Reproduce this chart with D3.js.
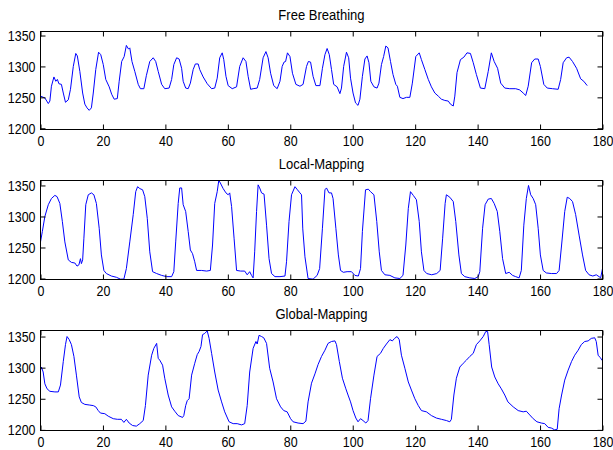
<!DOCTYPE html>
<html>
<head>
<meta charset="utf-8">
<script src="https://cdn.jsdelivr.net/npm/d3@7/dist/d3.min.js"></script>
<style>
  html, body { margin: 0; padding: 0; background: #fff; }
  svg { display: block; }
  text { font-family: "Liberation Sans", Arial, sans-serif; font-size: 15px; fill: #000; }
</style>
</head>
<body>
<svg id="chart" width="613" height="450"></svg>
<script>
// Time (x) and signal (y) samples for each acquisition mode
const freeX = [0,1.4,2.5,3.0,3.5,4.3,4.9,5.4,5.9,6.7,7.3,8.0,8.9,9.6,10.5,11.3,11.8,12.6,13.5,14.2,14.9,15.6,16.3,16.9,17.7,18.6,19.3,20.1,20.9,22.0,22.8,23.6,24.6,25.2,26.0,26.8,27.5,28.2,28.6,29.3,30.2,31.3,32.0,33.1,33.9,35.0,36.1,36.9,37.7,38.8,39.8,41.2,42.0,42.7,43.6,44.4,45.2,45.7,46.5,47.3,48.0,48.9,49.6,50.5,51.0,52.1,53.4,54.8,55.8,56.6,57.4,58.2,58.7,59.4,60.1,61.4,62.8,63.8,64.9,65.8,66.5,67.3,68.1,69.4,70.2,71.3,72.2,72.9,73.7,74.7,75.8,76.7,77.4,78.0,78.5,79.1,79.9,80.7,81.8,83.1,84.1,85.2,85.8,86.5,87.3,88.2,89.5,90.3,91.1,91.8,92.5,93.2,93.9,95.0,95.9,96.4,97.1,98.0,98.7,99.3,100.1,100.9,101.7,102.3,103.1,103.9,104.6,105.2,105.8,106.8,107.8,108.4,109.2,109.9,110.6,111.3,112.1,112.9,113.8,114.3,115.1,116.1,117.2,118.3,119.1,120.2,121.3,122.0,123.1,124.2,125.2,126.3,127.4,128.4,129.5,130.6,131.3,132.2,132.7,133.4,134.5,135.6,136.6,137.7,138.6,139.6,140.9,142.3,143.4,144.4,145.3,146.4,147.4,148.7,150.3,152.2,153.5,154.6,155.4,156.2,157.3,158.3,159.4,160.1,161.2,162.3,164.0,165.8,166.6,167.4,168.5,169.3,170.4,171.7,173.0,174.0,175.1];
const freeY = [1252,1249,1240,1244,1268,1283,1276,1279,1272,1271,1257,1242,1246,1263,1300,1321,1317,1292,1257,1239,1233,1229,1233,1257,1295,1323,1319,1303,1279,1267,1255,1247,1248,1276,1308,1316,1334,1328,1330,1308,1292,1271,1264,1264,1285,1308,1314,1308,1292,1271,1264,1265,1279,1303,1314,1312,1297,1276,1265,1264,1273,1295,1304,1304,1295,1283,1272,1264,1265,1281,1314,1322,1311,1284,1269,1264,1267,1300,1314,1308,1284,1263,1264,1265,1279,1314,1324,1314,1289,1269,1264,1276,1300,1307,1308,1322,1316,1289,1271,1268,1271,1300,1308,1307,1284,1269,1269,1297,1319,1329,1319,1295,1271,1267,1256,1265,1300,1323,1314,1281,1257,1241,1237,1247,1284,1312,1317,1306,1276,1267,1265,1273,1303,1316,1333,1330,1308,1287,1271,1268,1250,1248,1250,1250,1273,1316,1322,1311,1295,1279,1267,1257,1252,1247,1245,1244,1239,1236,1252,1290,1311,1315,1322,1321,1306,1287,1265,1264,1292,1322,1308,1297,1273,1265,1264,1264,1262,1257,1253,1268,1306,1312,1312,1300,1271,1265,1264,1263,1279,1306,1314,1315,1308,1297,1280,1276,1269];

const localX = [0,0.6,1.4,2.5,3.5,4.6,5.3,6.2,7.0,7.8,8.9,9.9,11.0,11.7,12.3,12.8,13.1,13.5,13.9,14.5,15.3,16.3,17.1,17.9,18.8,19.5,20.3,21.1,22.7,24.3,25.6,26.7,27.5,28.6,29.7,30.5,31.1,31.8,32.7,33.4,34.2,35.0,35.9,37.2,38.8,40.4,42.0,42.7,43.3,44.1,44.6,45.2,45.7,46.5,47.3,48.0,48.7,49.4,50.0,51.6,53.2,54.4,55.1,55.8,56.6,57.1,57.6,58.5,59.4,60.1,60.6,61.2,62.0,62.8,64.1,65.4,66.2,67.0,67.6,68.1,68.6,69.2,69.7,70.2,70.8,71.6,72.4,73.2,74.0,75.1,76.7,78.3,78.8,79.6,80.4,81.5,82.3,83.1,83.6,84.0,84.7,85.7,87.3,88.6,89.4,90.3,91.1,91.6,92.4,93.2,93.7,94.6,95.4,96.1,97.0,98.2,99.6,100.7,101.8,102.5,103.1,104.1,105.0,105.7,106.8,107.7,108.5,109.2,110.3,111.9,113.5,115.1,116.1,117.0,117.8,118.5,119.4,120.4,121.3,122.0,122.8,123.7,125.3,126.9,128.0,128.8,129.6,130.0,131.1,132.2,133.0,134.0,134.8,135.9,137.5,139.1,140.2,140.7,141.6,142.4,143.4,144.4,145.3,146.3,147.1,148.0,149.0,150.1,151.2,152.2,153.3,154.0,154.8,155.6,156.3,157.0,157.8,158.6,159.4,160.1,161.0,162.0,163.6,165.3,166.1,166.9,167.9,168.7,169.5,170.4,171.4,172.5,173.6,174.6,175.7,176.9,178.0,178.9,179.4,180.0];
const localY = [1259,1276,1300,1319,1329,1334,1332,1321,1292,1259,1230,1226,1225,1220,1222,1232,1224,1230,1265,1319,1335,1338,1335,1321,1281,1238,1213,1208,1204,1202,1199,1199,1216,1259,1303,1340,1348,1345,1343,1332,1297,1243,1211,1208,1205,1203,1203,1211,1259,1321,1346,1346,1319,1308,1276,1246,1240,1227,1213,1213,1212,1213,1254,1321,1340,1358,1354,1345,1338,1335,1338,1316,1265,1213,1212,1212,1206,1211,1205,1201,1243,1308,1351,1346,1338,1336,1286,1232,1208,1203,1203,1204,1227,1292,1335,1348,1343,1338,1335,1280,1235,1200,1199,1205,1216,1281,1343,1346,1338,1338,1329,1281,1238,1213,1210,1211,1211,1205,1204,1216,1276,1343,1344,1340,1335,1292,1243,1213,1206,1205,1201,1200,1205,1254,1313,1340,1334,1327,1292,1243,1213,1208,1206,1208,1213,1265,1321,1335,1331,1324,1292,1238,1208,1203,1201,1200,1203,1211,1281,1319,1328,1329,1321,1308,1276,1232,1208,1210,1205,1203,1201,1213,1286,1329,1350,1335,1329,1319,1281,1238,1213,1209,1208,1208,1213,1254,1308,1331,1329,1324,1303,1270,1238,1213,1206,1204,1206,1203,1201,1216];

const globalX = [0,0.3,0.85,1.4,2.1,3.0,4.6,5.7,6.4,7.3,8.0,8.5,9.2,9.9,10.7,11.5,12.4,13.1,14.2,15.6,16.9,17.7,18.5,19.2,20.6,21.7,23.3,24.6,25.9,26.7,27.5,28.4,29.5,30.7,31.8,32.9,33.6,34.5,35.6,36.3,37.2,37.7,38.2,39.1,39.8,40.9,42.0,43.0,44.1,45.5,45.9,46.5,47.0,47.6,48.4,49.4,50.2,50.8,51.4,51.9,52.6,53.4,54.0,54.8,55.8,56.9,58.0,59.0,60.4,61.7,63.0,64.4,65.4,66.2,67.0,68.1,69.0,69.4,70.0,70.8,71.5,72.4,73.4,74.5,75.6,76.9,77.9,79.0,80.1,80.9,82.5,84.1,85.0,85.7,86.8,87.9,88.9,90.0,91.1,92.1,93.2,94.3,94.8,95.7,96.7,97.8,98.5,99.3,100.1,101.0,101.7,102.5,103.3,104.2,104.9,105.7,106.8,107.8,108.9,109.8,110.8,111.9,112.7,113.4,114.2,114.9,115.6,116.7,117.8,118.8,119.9,121.0,122.0,123.6,125.2,126.8,128.4,130.0,131.1,131.6,132.4,133.2,134.3,135.4,136.4,137.5,138.6,139.6,140.7,141.8,142.6,143.2,143.7,144.5,145.5,146.6,147.6,148.7,149.7,151.4,153.0,154.6,155.6,156.7,157.8,159.0,160.4,161.5,162.6,163.6,164.7,165.5,166.1,166.9,167.9,169.0,170.1,171.1,172.2,173.2,174.3,175.4,176.4,177.5,178.0,178.6,179.3,180.0];
const globalY = [1296,1301,1293,1274,1266,1262,1261,1261,1272,1310,1337,1350,1345,1337,1318,1288,1253,1244,1241,1240,1239,1237,1231,1227,1226,1222,1218,1217,1217,1212,1217,1211,1207,1206,1210,1215,1239,1288,1320,1331,1339,1315,1312,1304,1283,1256,1237,1230,1223,1220,1223,1239,1247,1250,1288,1307,1321,1326,1334,1353,1355,1359,1347,1323,1293,1264,1245,1229,1213,1210,1210,1208,1210,1239,1293,1331,1342,1338,1352,1350,1348,1339,1299,1277,1250,1237,1231,1229,1218,1213,1211,1210,1214,1245,1275,1290,1305,1318,1328,1339,1342,1343,1337,1310,1283,1266,1256,1245,1231,1219,1213,1218,1215,1211,1215,1250,1288,1318,1323,1331,1338,1345,1343,1347,1350,1345,1320,1299,1277,1264,1250,1239,1231,1229,1223,1219,1217,1215,1213,1217,1256,1283,1301,1307,1312,1318,1323,1337,1343,1350,1358,1358,1337,1301,1285,1274,1266,1256,1245,1237,1231,1229,1230,1224,1218,1213,1211,1210,1204,1203,1200,1201,1234,1256,1280,1296,1310,1320,1328,1337,1342,1343,1347,1348,1342,1320,1316,1311];

// Panel titles, axis limits and tick values
const titles = ["Free Breathing", "Local-Mapping", "Global-Mapping"];
const yLimits = [[1198, 1356.5], [1198.4, 1358], [1199, 1359.7]];
const xTicks = [0, 20, 40, 60, 80, 100, 120, 140, 160, 180];
const yTicks = [1200, 1250, 1300, 1350];

const series = [
  { xs: freeX, ys: freeY },
  { xs: localX, ys: localY },
  { xs: globalX, ys: globalY }
];

const svg = d3.select("#chart");
const left = 40.5, right = 602.5, tickLen = 5;
const tops = [31.5, 180.5, 330.5];
const bottoms = [129.5, 279.5, 430.5];
const squeeze = 0.83; // horizontal condensing of the label glyphs

// Condense a text element horizontally while keeping its anchor point fixed
function condense(sel, k) {
  sel.each(function () {
    const t = d3.select(this);
    const x0 = +t.attr("x") || 0;
    t.attr("x", x0 / k).attr("transform", `scale(${k},1)`);
  });
}

series.forEach((s, i) => {
  const top = tops[i], bottom = bottoms[i];
  const x = d3.scaleLinear().domain([0, 180]).range([left, right]);
  const y = d3.scaleLinear().domain(yLimits[i]).range([bottom, top]);
  const g = svg.append("g");

  g.append("clipPath").attr("id", "clip" + i)
    .append("rect").attr("x", left).attr("y", top)
    .attr("width", right - left).attr("height", bottom - top);

  // signal trace
  const pts = s.xs.map((v, k) => [v, s.ys[k]]);
  g.append("path")
    .datum(pts)
    .attr("clip-path", "url(#clip" + i + ")")
    .attr("fill", "none")
    .attr("stroke", "#0000ff")
    .attr("stroke-width", 1)
    .attr("d", d3.line().x(d => x(d[0])).y(d => y(d[1])));

  // axes with inward ticks on all four sides
  const bottomAxis = d3.axisBottom(x).tickValues(xTicks).tickSizeInner(-tickLen).tickSizeOuter(0).tickPadding(6).tickFormat(d3.format("d"));
  const topAxis = d3.axisTop(x).tickValues(xTicks).tickSizeInner(-tickLen).tickSizeOuter(0).tickFormat("");
  const leftAxis = d3.axisLeft(y).tickValues(yTicks).tickSizeInner(-tickLen).tickSizeOuter(0).tickPadding(5).tickFormat(d3.format("d"));
  const rightAxis = d3.axisRight(y).tickValues(yTicks).tickSizeInner(-tickLen).tickSizeOuter(0).tickFormat("");

  [
    [bottomAxis, `translate(0,${bottom})`],
    [topAxis, `translate(0,${top})`],
    [leftAxis, `translate(${left},0)`],
    [rightAxis, `translate(${right},0)`]
  ].forEach(([ax, tr]) => {
    const a = g.append("g").attr("transform", tr).call(ax);
    a.select(".domain").remove();
    a.selectAll("line").attr("stroke", "#000");
    a.selectAll("text").attr("fill", "#000").style("font-size", "15px")
      .style("font-family", '"Liberation Sans", Arial, sans-serif')
      .call(condense, squeeze);
  });

  g.append("rect")
    .attr("x", left).attr("y", top)
    .attr("width", right - left).attr("height", bottom - top)
    .attr("fill", "none").attr("stroke", "#000").attr("stroke-width", 1);

  g.append("text")
    .attr("x", (left + right) / 2)
    .attr("y", top - 11)
    .attr("text-anchor", "middle")
    .text(titles[i])
    .call(condense, 0.87);
});
</script>
</body>
</html>
